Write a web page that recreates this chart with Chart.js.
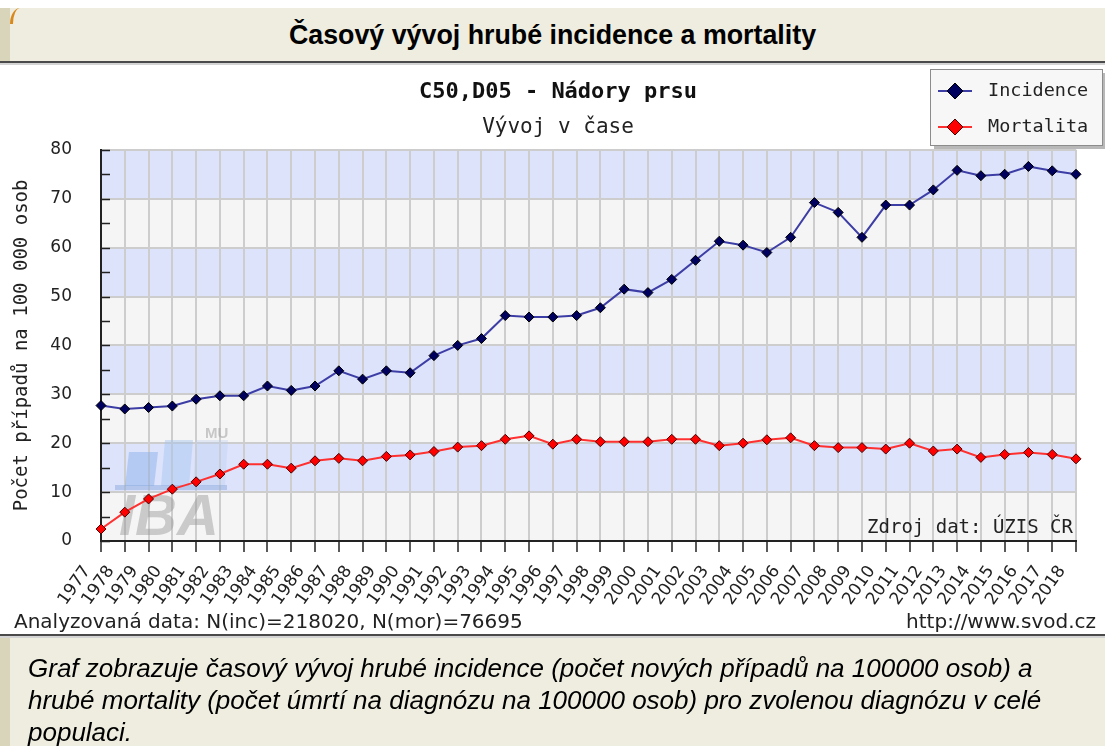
<!DOCTYPE html>
<html><head><meta charset="utf-8">
<script src="https://cdn.jsdelivr.net/npm/chart.js@4.4.1/dist/chart.umd.min.js"></script>
<style>
html,body{margin:0;padding:0;width:1105px;height:746px;overflow:hidden;background:#fff;}
#hdr{position:absolute;left:0;top:8px;width:1105px;height:53px;background:#eeeddf;}
#hdr .strip{position:absolute;left:0;top:0;width:10px;height:53px;background:#d8d5bb;}
#hdr .corner{position:absolute;left:10px;top:0;width:10px;height:16px;border-top-left-radius:10px 16px;border-left:3px solid #d9891c;}
#hdr h1{margin:0;position:absolute;left:0;right:0;top:0;height:53px;font:bold 26.8px "Liberation Sans",Arial,sans-serif;line-height:54px;text-align:center;color:#000;}
#hline{position:absolute;left:0;top:61px;width:1105px;height:2px;background:#4a4a4a;}
#hline2{position:absolute;left:0;top:63px;width:1105px;height:2px;background:#d4d4d4;}
#chartwrap{position:absolute;left:0;top:66px;width:1116px;height:546px;}
#info{position:absolute;left:14px;top:609px;font:20px/24px "DejaVu Sans";color:#222;white-space:nowrap;}
#src{position:absolute;right:9px;top:609px;font:20px/24px "DejaVu Sans";color:#222;white-space:nowrap;}
#fline{position:absolute;left:0;top:634px;width:1105px;height:2px;background:#4a4a4a;}
#fline2{position:absolute;left:0;top:636px;width:1105px;height:2px;background:#d4d4d4;}
#ftr{position:absolute;left:0;top:638px;width:1105px;height:108px;background:#eeeddf;}
#ftr .strip{position:absolute;left:0;top:0;width:10px;height:108px;background:#d8d5bb;}
#ftr p{margin:0;position:absolute;left:28px;top:14px;width:1075px;font:italic 26px/32px "Liberation Sans",Arial,sans-serif;color:#000;white-space:nowrap;}
</style>
</head>
<body>
<div id="hdr"><div class="strip"></div><div class="corner"></div><h1>Časový vývoj hrubé incidence a mortality</h1></div>
<div id="hline"></div><div id="hline2"></div>
<div id="chartwrap"><canvas id="c" width="1116" height="546"></canvas></div>
<div id="info">Analyzovaná data: N(inc)=218020, N(mor)=76695</div>
<div id="src">http://www.svod.cz</div>
<div id="fline"></div><div id="fline2"></div>
<div id="ftr"><div class="strip"></div><p>Graf zobrazuje časový vývoj hrubé incidence (počet nových případů na 100000 osob) a<br>hrubé mortality (počet úmrtí na diagnózu na 100000 osob) pro zvolenou diagnózu v celé<br>populaci.</p></div>
<script>
const years = ['1977','1978','1979','1980','1981','1982','1983','1984','1985','1986','1987','1988','1989','1990','1991','1992','1993','1994','1995','1996','1997','1998','1999','2000','2001','2002','2003','2004','2005','2006','2007','2008','2009','2010','2011','2012','2013','2014','2015','2016','2017','2018'];
const incidence = [27.7,27.0,27.3,27.6,29.0,29.7,29.7,31.7,30.8,31.7,34.8,33.1,34.8,34.4,37.9,40.0,41.4,46.1,45.8,45.8,46.1,47.7,51.5,50.8,53.5,57.4,61.3,60.5,59.0,62.1,69.2,67.2,62.1,68.7,68.7,71.8,75.8,74.7,75.0,76.6,75.7,75.0];
const mortality = [2.45,5.9,8.6,10.6,12.1,13.7,15.7,15.7,14.9,16.4,16.9,16.4,17.3,17.6,18.3,19.2,19.5,20.8,21.5,19.8,20.8,20.3,20.3,20.3,20.8,20.8,19.5,20.0,20.7,21.1,19.5,19.1,19.1,18.8,20.0,18.4,18.8,17.1,17.7,18.1,17.7,16.8];
const yTickLabels = [0,10,20,30,40,50,60,70,80];
const seriesNames = ['Incidence','Mortalita'];
const chartTitle = 'C50,D05 - Nádory prsu';
const chartSubtitle = 'Vývoj v čase';
const yAxisTitle = 'Počet případů na 100 000 osob';
const sourceNote = 'Zdroj dat: ÚZIS ČR';

function diamond(ctx, x, y, r, fill, stroke){
  ctx.beginPath();
  ctx.moveTo(x, y - r); ctx.lineTo(x + r, y); ctx.lineTo(x, y + r); ctx.lineTo(x - r, y); ctx.closePath();
  ctx.fillStyle = fill; ctx.fill();
  ctx.lineWidth = 1; ctx.strokeStyle = stroke; ctx.stroke();
}

const bandPlugin = {
  id: 'bands',
  beforeDraw(chart){
    const {ctx, chartArea: a, scales: {y}} = chart;
    ctx.save();
    for (let i = 0; i < yTickLabels.length - 1; i++){
      const top = y.getPixelForValue(yTickLabels[i + 1]);
      const bot = y.getPixelForValue(yTickLabels[i]);
      ctx.fillStyle = i % 2 === 0 ? '#f5f5f5' : '#dce3fb';
      ctx.fillRect(a.left, top, a.right - a.left, bot - top);
    }
    ctx.restore();
  }
};

const decoPlugin = {
  id: 'deco',
  beforeDatasetsDraw(chart){
    const {ctx, chartArea: a, scales: {y}} = chart;
    ctx.save();
    const ox = a.left, oy = a.bottom;
    function para(x1, x2, yt, yb, sk, col){
      ctx.beginPath();
      ctx.moveTo(ox + x1, oy + yb); ctx.lineTo(ox + x2, oy + yb);
      ctx.lineTo(ox + x2 + sk, oy + yt); ctx.lineTo(ox + x1 + sk, oy + yt); ctx.closePath();
      ctx.fillStyle = col; ctx.fill();
    }
    para(92, 124, -101, -55, 3, 'rgba(185,205,240,0.35)');
    para(24, 53, -89, -55, 4, 'rgba(130,170,230,0.45)');
    para(60, 88, -101, -55, 4, 'rgba(165,195,240,0.45)');
    ctx.fillStyle = 'rgba(140,170,220,0.5)';
    ctx.fillRect(ox + 14, oy - 56, 112, 5);
    ctx.font = 'italic bold 58px "Liberation Sans"';
    ctx.fillStyle = 'rgba(150,150,150,0.45)';
    ctx.textBaseline = 'alphabetic'; ctx.textAlign = 'left';
    ctx.fillText('IBA', ox + 18, oy - 6);
    ctx.font = 'bold 15px "Liberation Sans"';
    ctx.fillStyle = 'rgba(160,160,160,0.55)';
    ctx.fillText('MU', ox + 104, oy - 103);
    ctx.beginPath();
    y.ticks.forEach(t => {
      const py = Math.round(y.getPixelForValue(t.value)) + 0.5;
      ctx.moveTo(a.left, py); ctx.lineTo(a.left + 9, py);
    });
    ctx.strokeStyle = '#222'; ctx.lineWidth = 1.5; ctx.stroke();
    ctx.restore();
  },
  afterDatasetsDraw(chart){
    const {ctx, chartArea: a} = chart;
    ctx.save();
    ctx.font = '19px "DejaVu Sans Mono"';
    ctx.fillStyle = '#222'; ctx.textAlign = 'right'; ctx.textBaseline = 'middle';
    ctx.fillText(sourceNote, a.right - 3, a.bottom - 13);
    ctx.restore();
  },
  afterDraw(chart){
    const ctx = chart.ctx;
    const bx = 930, by = 3, bw = 172, bh = 76;
    ctx.save();
    ctx.fillStyle = '#b8b8b8'; ctx.fillRect(bx + 4, by + 4, bw, bh);
    ctx.fillStyle = '#f7f7f7'; ctx.fillRect(bx, by, bw, bh);
    ctx.strokeStyle = '#8c8c8c'; ctx.lineWidth = 1; ctx.strokeRect(bx + 0.5, by + 0.5, bw, bh);
    chart.data.datasets.forEach((ds, i) => {
      const cy = by + 22 + i * 36;
      ctx.beginPath(); ctx.moveTo(bx + 8, cy); ctx.lineTo(bx + 42, cy);
      ctx.strokeStyle = ds.borderColor; ctx.lineWidth = 2; ctx.stroke();
      diamond(ctx, bx + 25, cy, 8, ds.pointBackgroundColor, ds.pointBorderColor);
      ctx.font = '18.5px "DejaVu Sans Mono"'; ctx.fillStyle = '#222';
      ctx.textAlign = 'left'; ctx.textBaseline = 'middle';
      ctx.fillText(ds.label, bx + 58, cy);
    });
    ctx.restore();
  }
};

new Chart(document.getElementById('c'), {
  type: 'line',
  data: {
    labels: years,
    datasets: [
      {label: seriesNames[0], data: incidence, borderColor: '#3d3da6', borderWidth: 2, pointStyle: 'rectRot', pointRadius: 5, pointBackgroundColor: '#00005e', pointBorderColor: '#000000', pointBorderWidth: 1, tension: 0, clip: false},
      {label: seriesNames[1], data: mortality, borderColor: '#ff3030', borderWidth: 2, pointStyle: 'rectRot', pointRadius: 5, pointBackgroundColor: '#ff0000', pointBorderColor: '#4a0000', pointBorderWidth: 1, tension: 0, clip: false}
    ]
  },
  options: {
    responsive: false,
    animation: false,
    layout: {padding: 0},
    plugins: {
      legend: {display: false},
      tooltip: {enabled: false},
      title: {display: true, text: chartTitle, color: '#111', font: {family: 'DejaVu Sans Mono', size: 22, weight: 'bold'}, padding: {top: 12.8, bottom: 0}},
      subtitle: {display: true, text: chartSubtitle, color: '#222', font: {family: 'DejaVu Sans Mono', size: 21, weight: 'normal'}, padding: {top: 10, bottom: 9.4}}
    },
    scales: {
      x: {
        type: 'category',
        offset: false,
        grid: {color: '#cdcdcd', lineWidth: 2, tickColor: '#222', tickLength: 11, tickWidth: 1.5},
        border: {color: '#222', width: 2},
        ticks: {autoSkip: false, maxRotation: 55, minRotation: 55, padding: 10, labelOffset: -14, color: '#222', font: {family: 'DejaVu Sans', size: 17}},
        afterFit(s){ s.height = 71; }
      },
      y: {
        min: 0, max: 80,
        ticks: {stepSize: 5, padding: 29, color: '#222', font: {family: 'DejaVu Sans', size: 17},
          callback: v => yTickLabels.includes(v) ? String(v) : ''},
        grid: {drawTicks: false, lineWidth: 2, color: c => (c.tick && yTickLabels.includes(c.tick.value)) ? '#cdcdcd' : 'rgba(0,0,0,0)'},
        border: {color: '#222', width: 2},
        title: {display: true, text: yAxisTitle, color: '#222', font: {family: 'DejaVu Sans Mono', size: 19}, padding: {top: 10.6, bottom: 0}},
        afterFit(s){ s.width = 101; }
      },
      y2: {
        position: 'right', display: true,
        grid: {display: false, drawTicks: false}, border: {display: false}, ticks: {display: false},
        afterFit(s){ s.width = 40; }
      }
    }
  },
  plugins: [bandPlugin, decoPlugin]
});
</script>
</body></html>
